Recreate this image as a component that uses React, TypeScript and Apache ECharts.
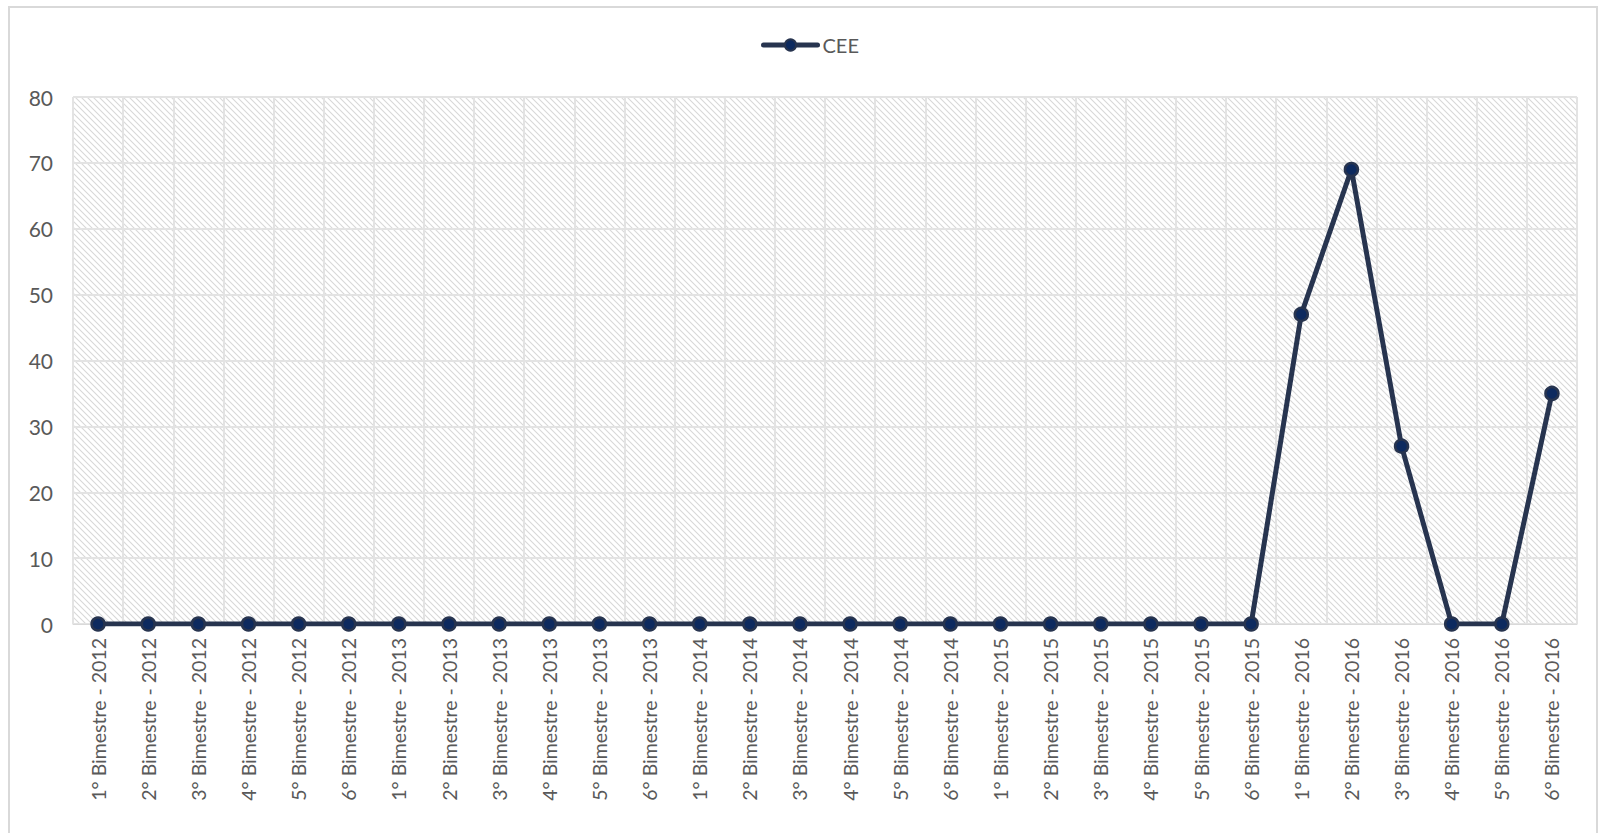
import React, { useEffect, useRef } from "react";
import * as echarts from "echarts";

const categories = [
  "1° Bimestre - 2012", "2° Bimestre - 2012", "3° Bimestre - 2012", "4° Bimestre - 2012", "5° Bimestre - 2012", "6° Bimestre - 2012",
  "1° Bimestre - 2013", "2° Bimestre - 2013", "3° Bimestre - 2013", "4° Bimestre - 2013", "5° Bimestre - 2013", "6° Bimestre - 2013",
  "1° Bimestre - 2014", "2° Bimestre - 2014", "3° Bimestre - 2014", "4° Bimestre - 2014", "5° Bimestre - 2014", "6° Bimestre - 2014",
  "1° Bimestre - 2015", "2° Bimestre - 2015", "3° Bimestre - 2015", "4° Bimestre - 2015", "5° Bimestre - 2015", "6° Bimestre - 2015",
  "1° Bimestre - 2016", "2° Bimestre - 2016", "3° Bimestre - 2016", "4° Bimestre - 2016", "5° Bimestre - 2016", "6° Bimestre - 2016",
];

const ceeValues = [
  0, 0, 0, 0, 0, 0,
  0, 0, 0, 0, 0, 0,
  0, 0, 0, 0, 0, 0,
  0, 0, 0, 0, 0, 0,
  47, 69, 27, 0, 0, 35,
];

const seriesName = "CEE";

function makeHatch(): HTMLCanvasElement {
  const c = document.createElement("canvas");
  c.width = 6;
  c.height = 6;
  const ctx = c.getContext("2d")!;
  ctx.fillStyle = "#ffffff";
  ctx.fillRect(0, 0, 6, 6);
  ctx.strokeStyle = "#d8d8d8";
  ctx.lineWidth = 1.1;
  ctx.beginPath();
  ctx.moveTo(-1, -1);
  ctx.lineTo(7, 7);
  ctx.moveTo(-4, 2);
  ctx.lineTo(4, 10);
  ctx.moveTo(2, -4);
  ctx.lineTo(10, 4);
  ctx.stroke();
  return c;
}

export default function App() {
  const ref = useRef<HTMLDivElement>(null);
  useEffect(() => {
    if (!ref.current) return;
    const chart = echarts.init(ref.current, undefined, { renderer: "svg" });
    const font = "Lato, 'Noto Sans', sans-serif";
    chart.setOption({
      animation: false,
      textStyle: { fontFamily: font },
      legend: {
        top: 22,
        left: 746,
        itemWidth: 54,
        itemHeight: 14,
        itemGap: 4,
        lineStyle: { width: 5, cap: "round", color: "#27344f" },
        textStyle: { color: "#595959", fontSize: 20, fontFamily: font },
        data: [seriesName],
      },
      grid: {
        left: 63,
        right: 19,
        top: 89,
        bottom: 220,
        show: true,
        borderColor: "#e3e3e3",
        borderWidth: 1,
        backgroundColor: { image: makeHatch(), repeat: "repeat" },
      },
      xAxis: {
        type: "category",
        data: categories,
        boundaryGap: true,
        axisLine: { show: true, lineStyle: { color: "#d9d9d9", width: 1 } },
        axisTick: { show: false },
        splitLine: { show: true, interval: 0, lineStyle: { color: "#e3e3e3", width: 2 } },
        axisLabel: {
          interval: 0,
          rotate: 90,
          color: "#595959",
          fontSize: 19.5,
          fontFamily: font,
          margin: 14,
        },
      },
      yAxis: {
        type: "value",
        min: 0,
        max: 80,
        interval: 10,
        axisLine: { show: false },
        axisTick: { show: false },
        splitLine: { show: true, lineStyle: { color: "#e3e3e3", width: 2 } },
        axisLabel: { color: "#595959", fontSize: 21, fontFamily: font, margin: 20 },
      },
      series: [
        {
          name: seriesName,
          type: "line",
          data: ceeValues,
          symbol: "circle",
          symbolSize: 13,
          lineStyle: { color: "#27344f", width: 5 },
          itemStyle: { color: "#0d2a5f", borderColor: "#27344f", borderWidth: 2.5 },
        },
      ],
    });
    return () => chart.dispose();
  }, []);
  return (
    <div
      style={{
        position: "fixed",
        left: 8,
        top: 6,
        width: 1590,
        height: 840,
        border: "2px solid #d9d9d9",
        boxSizing: "border-box",
        background: "#fff",
      }}
    >
      <div ref={ref} style={{ width: "100%", height: "100%" }} />
    </div>
  );
}
